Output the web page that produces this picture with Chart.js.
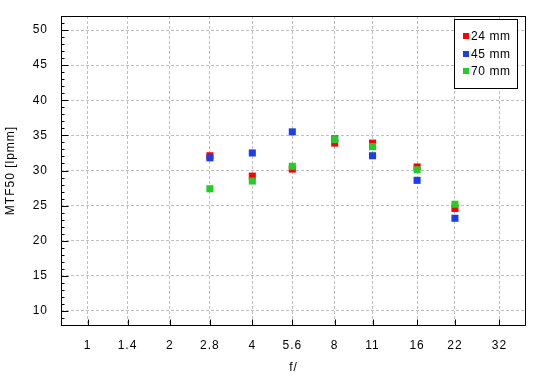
<!DOCTYPE html>
<html><head><meta charset="utf-8">
<script src="https://cdn.jsdelivr.net/npm/chart.js@4"></script>
<style>html,body{margin:0;padding:0;background:#fff}</style>
</head><body>
<canvas id="c" width="550" height="380" style="width:550px;height:380px;display:block"></canvas>
<script>
const fNumbers = [2.8, 4, 5.6, 8, 11, 16, 22];
const xTickValues = [1, 1.4, 2, 2.8, 4, 5.6, 8, 11, 16, 22, 32];
const yTickValues = [10, 15, 20, 25, 30, 35, 40, 45, 50];
const series24 = [32.1, 29.2, 30.2, 33.9, 33.9, 30.5, 24.6];
const series45 = [31.8, 32.5, 35.5, 34.5, 32.1, 28.6, 23.2];
const series70 = [27.4, 28.5, 30.6, 34.4, 33.4, 30.1, 25.2];
const seriesLabels = ['24 mm', '45 mm', '70 mm'];
const seriesColors = ['#ff0000', '#1c40e6', '#26cc26'];
const xTitle = 'f/';
const yTitle = 'MTF50 [lpmm]';

const FONT = "'Liberation Sans', Arial, sans-serif";
const allSeries = [series24, series45, series70];
const datasets = allSeries.map((s, i) => ({
  label: seriesLabels[i],
  data: fNumbers.map((f, j) => ({x: f, y: s[j]})),
  backgroundColor: seriesColors[i],
  borderColor: seriesColors[i],
  borderWidth: 0,
  pointStyle: 'rect',
  pointRadius: 5,
  pointHoverRadius: 5,
  showLine: false,
  order: 3 - i
}));

const framePlugin = {
  id: 'frame',
  beforeDraw(chart) { chart.ctx.letterSpacing = '1px'; },
  afterDraw(chart) {
    const {ctx, chartArea: a, scales: {x, y}} = chart;
    ctx.save();
    ctx.letterSpacing = '0px';
    ctx.strokeStyle = '#000';
    ctx.lineWidth = 1;
    const L = Math.floor(a.left) + 0.5, T = Math.floor(a.top) + 0.5;
    const R = Math.ceil(a.right) - 0.5, B = Math.floor(a.bottom) + 0.5;
    ctx.beginPath();
    xTickValues.forEach(v => {
      const px = Math.round(x.getPixelForValue(v)) + 0.5;
      ctx.moveTo(px, B); ctx.lineTo(px, B - 6);
    });
    for (let v = Math.ceil(y.min); v <= Math.floor(y.max); v++) {
      const py = Math.round(y.getPixelForValue(v)) + 0.5;
      const len = yTickValues.includes(v) ? 7 : 3;
      ctx.moveTo(L, py); ctx.lineTo(L + len, py);
    }
    ctx.stroke();
    ctx.strokeRect(L, T, R - L, B - T);
    const lx = 454.5, ly = 19.5, lw = 63, lh = 69;
    ctx.fillStyle = '#fff';
    ctx.fillRect(lx, ly, lw, lh);
    ctx.strokeRect(lx, ly, lw, lh);
    ctx.font = '12px ' + FONT;
    ctx.letterSpacing = '0.6px';
    ctx.textBaseline = 'middle';
    ctx.textAlign = 'left';
    chart.data.datasets.forEach((ds, i) => {
      const cy = 36 + i * 17.7;
      ctx.fillStyle = ds.backgroundColor;
      ctx.fillRect(463, Math.round(cy) - 3, 6, 6);
      ctx.fillStyle = '#000';
      ctx.fillText(ds.label, 471, cy + 0.5);
    });
    ctx.restore();
    ctx.letterSpacing = '0px';
  }
};

new Chart(document.getElementById('c'), {
  type: 'scatter',
  data: {datasets},
  options: {
    responsive: false,
    animation: false,
    devicePixelRatio: 1,
    layout: {padding: {left: 0, top: 16, right: 24, bottom: 0}},
    plugins: {legend: {display: false}, tooltip: {enabled: false}},
    scales: {
      x: {
        type: 'logarithmic',
        min: 0.8, max: 40,
        afterBuildTicks: s => { s.ticks = xTickValues.map(v => ({value: v, major: false})); },
        afterFit: s => { s.height = 55; s.paddingLeft = 0; s.paddingRight = 0; },
        grid: {color: '#c0c0c0', lineWidth: 1, drawTicks: false},
        border: {display: false, dash: [3, 2]},
        ticks: {
          autoSkip: false, maxRotation: 0, padding: 13, color: '#000',
          font: {family: FONT, size: 12},
          callback: v => String(v)
        },
        title: {display: true, text: xTitle, color: '#000', font: {family: FONT, size: 12}, padding: {top: 0, bottom: 5}}
      },
      y: {
        type: 'linear',
        min: 8, max: 52,
        afterBuildTicks: s => { s.ticks = yTickValues.map(v => ({value: v})); },
        afterFit: s => { s.width = 61; s.paddingTop = 0; s.paddingBottom = 0; },
        grid: {color: '#c0c0c0', lineWidth: 1, drawTicks: false},
        border: {display: false, dash: [3, 2]},
        ticks: {padding: 13, color: '#000', font: {family: FONT, size: 12}},
        title: {display: true, text: yTitle, color: '#000', font: {family: FONT, size: 12}, padding: {top: 3, bottom: 0}}
      }
    }
  },
  plugins: [framePlugin]
});
</script>
</body></html>
